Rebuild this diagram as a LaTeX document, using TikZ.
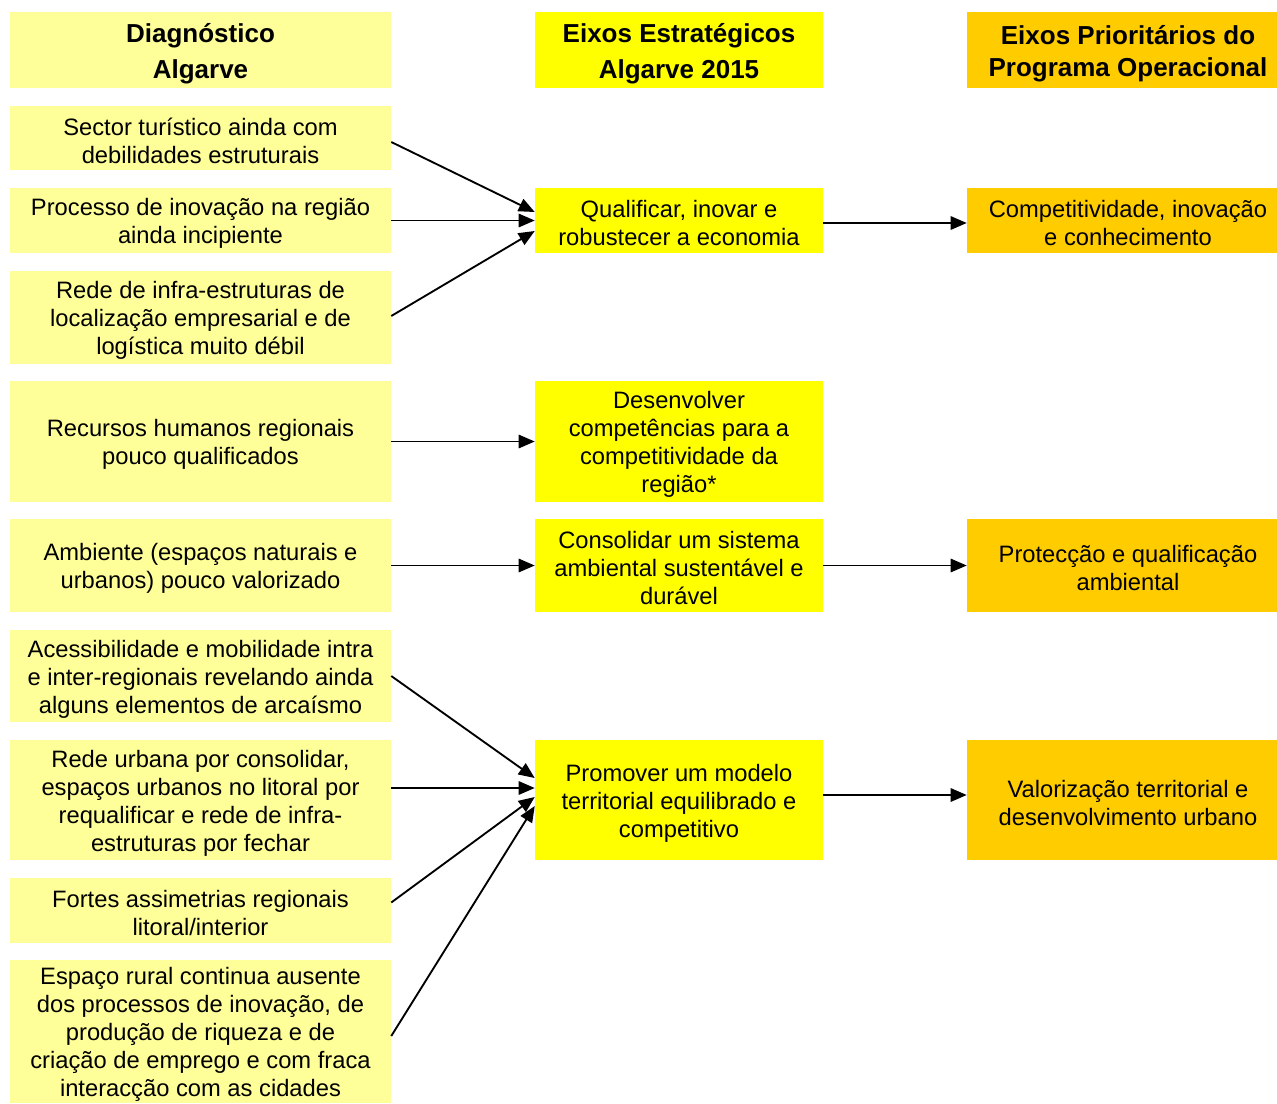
\documentclass[tikz,border=0pt]{standalone}
\usepackage{fontspec}
\setmainfont{Liberation Sans}
\usetikzlibrary{arrows.meta,calc}
\definecolor{lightyel}{HTML}{FFFF99}
\definecolor{yel}{HTML}{FFFF00}
\definecolor{orng}{HTML}{FFCC00}
\newcommand\fl{\rule{0pt}{17.2pt}}
\newcommand\hl{\rule{0pt}{19.8pt}}
\begin{document}
\begin{tikzpicture}[x=0.75pt,y=-0.75pt,
  box/.style={rectangle,inner sep=0pt,align=center,font=\fontsize{17.8}{21}\selectfont},
  lbox/.style={box,fill=lightyel,minimum width=285.75pt},
  mbox/.style={box,fill=yel,minimum width=216pt},
  rbox/.style={box,fill=orng,minimum width=241.5pt},
  hdr/.style={font=\fontsize{19.5}{27}\selectfont\bfseries},
  conn/.style={line width=1.4pt,-{Triangle[length=12pt,width=10pt]}}]
\useasboundingbox (0,0) rectangle (1277,1103);
% headers
\node[lbox,hdr,minimum height=57pt] (HL) at (200.5,50) {\hl Diagnóstico\\Algarve};
\node[mbox,hdr,minimum height=57pt] (HM) at (679,50) {\hl Eixos Estratégicos\\Algarve 2015};
\node[rbox,font=\fontsize{19.5}{23.5}\selectfont\bfseries,minimum height=57pt] (HR) at (1128,50) {\hl Eixos Prioritários do\\Programa Operacional};
% left column
\node[lbox,minimum height=48pt] (L1) at (200.5,138) {\fl Sector turístico ainda com\\debilidades estruturais};
\node[lbox,minimum height=48.75pt] (L2) at (200.5,220.5) {\fl Processo de inovação na região\\ainda incipiente};
\node[lbox,minimum height=69.75pt] (L3) at (200.5,317.5) {\fl Rede de infra-estruturas de\\localização empresarial e de\\logística muito débil};
\node[lbox,minimum height=90.75pt] (L4) at (200.5,441.5) {\fl Recursos humanos regionais\\pouco qualificados};
\node[lbox,minimum height=69.75pt] (L5) at (200.5,565.5) {\fl Ambiente (espaços naturais e\\urbanos) pouco valorizado};
\node[lbox,minimum height=69pt] (L6) at (200.5,676) {\fl Acessibilidade e mobilidade intra\\e inter-regionais revelando ainda\\alguns elementos de arcaísmo};
\node[lbox,minimum height=90pt] (L7) at (200.5,800) {\fl Rede urbana por consolidar,\\espaços urbanos no litoral por\\requalificar e rede de infra-\\estruturas por fechar};
\node[lbox,minimum height=48.75pt] (L8) at (200.5,910.5) {\fl Fortes assimetrias regionais\\litoral/interior};
\node[lbox,minimum height=107.25pt] (L9) at (200.5,1031.5) {\fl Espaço rural continua ausente\\dos processos de inovação, de\\produção de riqueza e de\\criação de emprego e com fraca\\interacção com as cidades};
% middle column
\node[mbox,minimum height=48.75pt] (M1) at (679,220.5) {\fl Qualificar, inovar e\\robustecer a economia};
\node[mbox,minimum height=90.75pt] (M2) at (679,441.5) {\fl Desenvolver\\competências para a\\competitividade da\\região*};
\node[mbox,minimum height=69.75pt] (M3) at (679,565.5) {\fl Consolidar um sistema\\ambiental sustentável e\\durável};
\node[mbox,minimum height=90pt] (M4) at (679,800) {\fl Promover um modelo\\territorial equilibrado e\\competitivo};
% right column
\node[rbox,minimum height=48.75pt] (R1) at (1128,220.5) {\fl Competitividade, inovação\\e conhecimento};
\node[rbox,minimum height=69.75pt] (R3) at (1128,565.5) {\fl Protecção e qualificação\\ambiental};
\node[rbox,minimum height=90pt] (R4) at (1128,800) {\fl Valorização territorial e\\desenvolvimento urbano};
% connectors
\draw[conn] ($(L1.east)+(0,4)$) -- ($(M1.west)+(0,-8.5)$);
\draw[conn] (L2.east) -- (M1.west);
\draw[conn] ($(L3.east)+(0,-1.5)$) -- ($(M1.west)+(0,10.5)$);
\draw[conn] (L4.east) -- (M2.west);
\draw[conn] (L5.east) -- (M3.west);
\draw[conn] (L6.east) -- ($(M4.west)+(0,-22)$);
\draw[conn] ($(L7.east)+(0,-12)$) -- ($(M4.west)+(0,-12)$);
\draw[conn] ($(L8.east)+(0,-8)$) -- ($(M4.west)+(0,-3)$);
\draw[conn] ($(L9.east)+(0,4.5)$) -- ($(M4.west)+(0,6)$);
\draw[conn] ($(M1.east)+(0,2.5)$) -- ($(R1.west)+(0,2.5)$);
\draw[conn] (M3.east) -- (R3.west);
\draw[conn] ($(M4.east)+(0,-5)$) -- ($(R4.west)+(0,-5)$);
\end{tikzpicture}
\end{document}
